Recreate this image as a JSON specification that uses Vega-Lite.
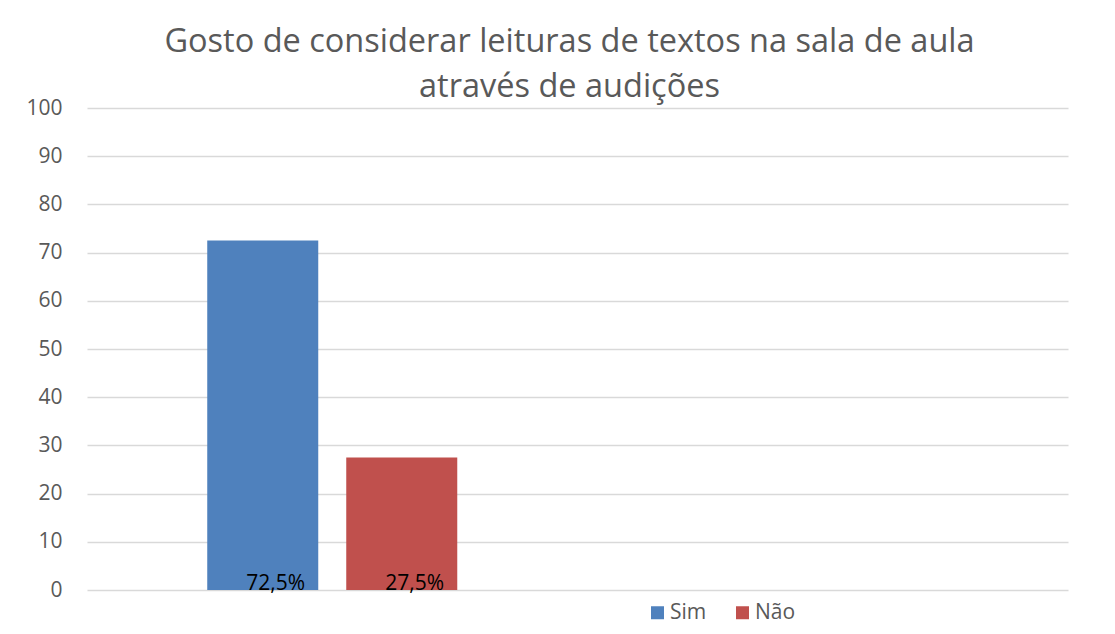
{
  "$schema": "https://vega.github.io/schema/vega-lite/v6.json",
  "width": 981,
  "height": 482,
  "autosize": "none",
  "padding": {"left": 87, "top": 108, "right": 47, "bottom": 44},
  "background": "white",
  "title": {
    "text": ["Gosto de considerar leituras de textos na sala de aula", "através de audições"],
    "font": "Open Sans",
    "fontSize": 32.5,
    "fontWeight": "normal",
    "color": "#595959",
    "lineHeight": 45,
    "anchor": "middle",
    "dx": -8,
    "dy": 16,
    "offset": 10
  },
  "data": {
    "values": [
      {"categoria": "Grupo", "resposta": "Sim", "percentual": 72.5, "rotulo": "72,5%"},
      {"categoria": "Grupo", "resposta": "Não", "percentual": 27.5, "rotulo": "27,5%"}
    ]
  },
  "encoding": {
    "x": {
      "field": "categoria",
      "type": "nominal",
      "scale": {"domain": ["Grupo", " "], "paddingInner": 0, "paddingOuter": 0},
      "axis": null
    },
    "xOffset": {
      "field": "resposta",
      "type": "nominal",
      "scale": {"domain": ["Sim", "Não"], "paddingInner": 0.2014, "paddingOuter": 0.865}
    }
  },
  "layer": [
    {
      "mark": {"type": "bar"},
      "encoding": {
        "y": {
          "field": "percentual",
          "type": "quantitative",
          "scale": {"domain": [0, 100]},
          "axis": {
            "values": [0, 10, 20, 30, 40, 50, 60, 70, 80, 90, 100],
            "title": null,
            "domain": false,
            "ticks": false,
            "labelPadding": 25,
            "labelFont": "Open Sans",
            "labelFontSize": 21,
            "labelColor": "#595959",
            "gridColor": "#d9d9d9",
            "gridWidth": 1.5
          }
        },
        "color": {
          "field": "resposta",
          "type": "nominal",
          "scale": {"domain": ["Sim", "Não"], "range": ["#4F81BD", "#C0504D"]},
          "legend": {
            "title": null,
            "orient": "none",
            "direction": "horizontal",
            "legendX": 560,
            "legendY": 494,
            "symbolType": "square",
            "symbolSize": 169,
            "symbolStrokeWidth": 0,
            "symbolOpacity": 1,
            "labelFont": "Open Sans",
            "labelFontSize": 21,
            "labelColor": "#595959",
            "labelOffset": 2,
            "columnPadding": 25
          }
        }
      }
    },
    {
      "mark": {"type": "text", "font": "Open Sans", "fontSize": 21, "color": "black", "baseline": "alphabetic", "align": "center", "dx": 13, "dy": 0},
      "encoding": {
        "y": {"datum": 0, "type": "quantitative"},
        "text": {"field": "rotulo", "type": "nominal"}
      }
    }
  ],
  "config": {
    "view": {"stroke": null}
  }
}
